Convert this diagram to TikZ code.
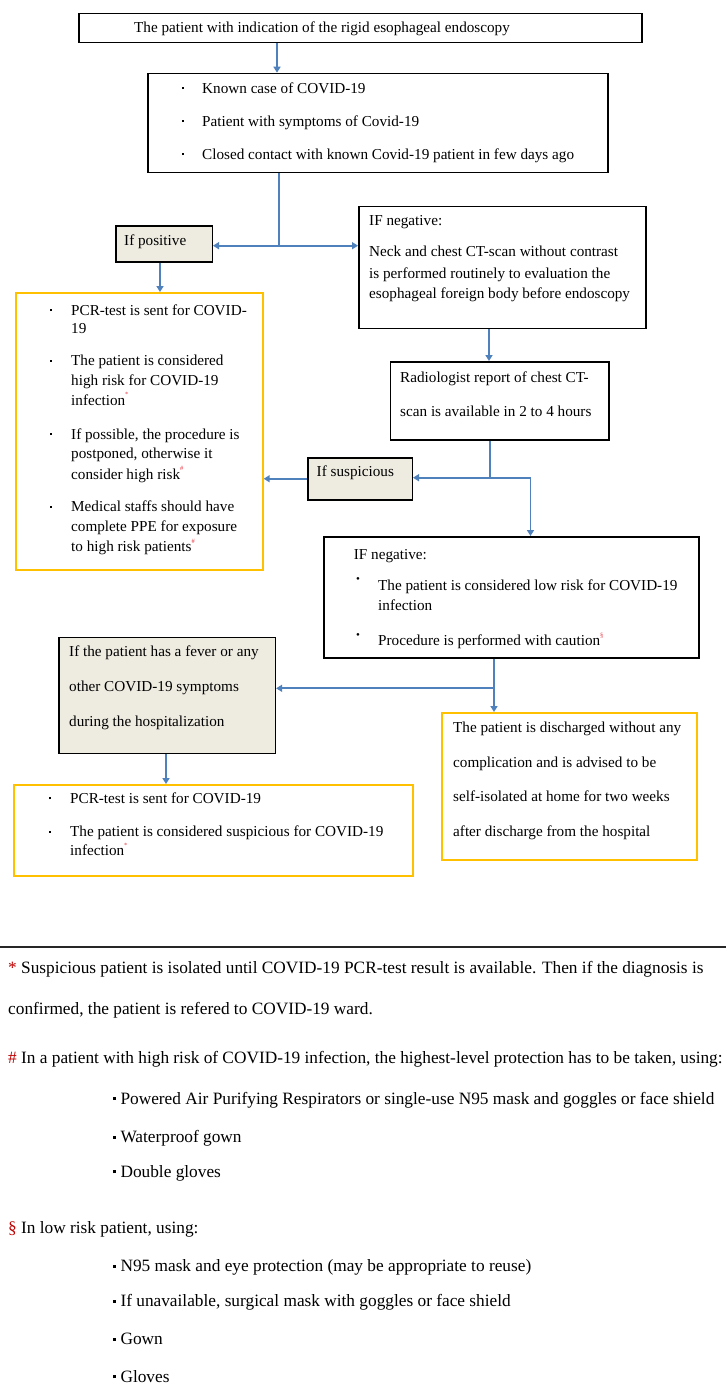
\documentclass[tikz,border=0pt]{standalone}
\usepackage{fontspec}
\setmainfont{Liberation Serif}
\usetikzlibrary{arrows.meta}
\definecolor{arrblue}{HTML}{4F81BD}
\definecolor{ybord}{HTML}{FFC000}
\definecolor{beige}{HTML}{EEECE1}
\definecolor{mred}{HTML}{E8323C}
\definecolor{fred}{HTML}{C00000}
\newcommand\fc{\fontsize{15.2}{18}\selectfont}
\newcommand\fn{\fontsize{17.3}{20}\selectfont}
\newcommand\bul{\rule[0.26em]{2.2pt}{2.2pt}}
\newcommand\sqb{\rule[0.24em]{3pt}{3pt}}
\newcommand\rbul{\raisebox{0.5em}{\fontsize{11}{11}\selectfont\textbullet}}
\newcommand\mk[1]{\raisebox{0.55em}{\color{mred}\fontsize{6.5}{6.5}\selectfont #1}}
\tikzset{
  box/.style={draw=black, line width=1.5pt, inner sep=0pt, anchor=north west},
  ybox/.style={draw=ybord, line width=1.7pt, inner sep=0pt, anchor=north west},
  gbox/.style={box, fill=beige},
  ln/.style={draw=arrblue, line width=1.8pt},
  arr/.style={ln, -{Triangle[width=7pt,length=6pt]}},
  txt/.style={anchor=west, inner sep=0pt, text height=10pt, text depth=0pt, font=\fc},
  ftxt/.style={anchor=west, inner sep=0pt, text height=11.4pt, text depth=0pt, font=\fn},
}
\begin{document}
\begin{tikzpicture}[x=1pt,y=-1pt]
\useasboundingbox (0,0) rectangle (726,1387);
\fill[white] (0,0) rectangle (726,1387);

% boxes
\node[box, minimum width=563pt, minimum height=29pt] (b1) at (78,12.7) {};
\node[box, minimum width=460pt, minimum height=99pt] (b2) at (147,72.7) {};
\node[gbox, minimum width=96.5pt, minimum height=36pt] (pos) at (115,225) {};
\node[ybox, minimum width=247pt, minimum height=277pt] (yl) at (15,292) {};
\node[box, minimum width=287pt, minimum height=122pt] (neg1) at (358,205.7) {};
\node[box, minimum width=218.5pt, minimum height=78pt] (rad) at (389.5,361) {};
\node[gbox, minimum width=104.5pt, minimum height=42pt] (susp) at (307,457) {};
\node[box, minimum width=375pt, minimum height=121pt] (neg2) at (323,536) {};
\node[gbox, minimum width=216.6pt, minimum height=116pt] (fev) at (58,636.7) {};
\node[ybox, minimum width=255pt, minimum height=147.3pt] (dis) at (441,712) {};
\node[ybox, minimum width=399pt, minimum height=91pt] (yb) at (13,784) {};

% texts
\node[txt] (t1) at (134,27) {The patient with indication of the rigid esophageal endoscopy};
\node[txt] (t2a) at (182,88) {\makebox[20pt][l]{\bul}Known case of COVID-19};
\node[txt] (t2b) at (182,121) {\makebox[20pt][l]{\bul}Patient with symptoms of Covid-19};
\node[txt] (t2c) at (182,154) {\makebox[20pt][l]{\bul}Closed contact with known Covid-19 patient in few days ago};
\node[txt] (tpos) at (124,240) {If positive};

\node[txt] (yl1) at (50,310) {\makebox[21pt][l]{\bul}PCR-test is sent for COVID-};
\node[txt] (yl2) at (71,328) {19};
\node[txt] (yl3) at (50,360.7) {\makebox[21pt][l]{\bul}The patient is considered};
\node[txt] (yl4) at (71,380) {high risk for COVID-19};
\node[txt] (yl5) at (71,400) {infection\mk{*}};
\node[txt] (yl6) at (50,434) {\makebox[21pt][l]{\bul}If possible, the procedure is};
\node[txt] (yl7) at (71,453) {postponed, otherwise it};
\node[txt] (yl8) at (71,474) {consider high risk\mk{\#}};
\node[txt] (yl9) at (50,506.7) {\makebox[21pt][l]{\bul}Medical staffs should have};
\node[txt] (yl10) at (71,526.7) {complete PPE for exposure};
\node[txt] (yl11) at (71,546.7) {to high risk patients\mk{\#}};

\node[txt] (n1a) at (369,220) {IF negative:};
\node[txt] (n1b) at (369,251.7) {Neck and chest CT-scan without contrast};
\node[txt] (n1c) at (369,273) {is performed routinely to evaluation the};
\node[txt] (n1d) at (369,293) {esophageal foreign body before endoscopy};

\node[txt] (r1) at (400,377.7) {Radiologist report of chest CT-};
\node[txt] (r2) at (400,411.7) {scan is available in 2 to 4 hours};

\node[txt] (tsusp) at (316.5,471.7) {If suspicious};

\node[txt] (n2a) at (353.7,554) {IF negative:};
\node[txt] (n2b) at (356,585) {\makebox[22pt][l]{\rbul}The patient is considered low risk for COVID-19};
\node[txt] (n2c) at (378,605) {infection};
\node[txt] (n2d) at (356,640.7) {\makebox[22pt][l]{\rbul}Procedure is performed with caution\mk{\S}};

\node[txt] (f1) at (69,651.7) {If the patient has a fever or any};
\node[txt] (f2) at (69,686.7) {other COVID-19 symptoms};
\node[txt] (f3) at (69,721.7) {during the hospitalization};

\node[txt] (d1) at (453,727.3) {The patient is discharged without any};
\node[txt] (d2) at (453,762.7) {complication and is advised to be};
\node[txt] (d3) at (453,796.7) {self-isolated at home for two weeks};
\node[txt] (d4) at (453,831.7) {after discharge from the hospital};

\node[txt] (yb1) at (49,798.3) {\makebox[21pt][l]{\bul}PCR-test is sent for COVID-19};
\node[txt] (yb2) at (49,831.7) {\makebox[21pt][l]{\bul}The patient is considered suspicious for COVID-19};
\node[txt] (yb3) at (70,850.7) {infection\mk{*}};

% connectors
\coordinate (c1) at (277,0);
\draw[arr] (c1 |- b1.south) -- (c1 |- b2.north);
\coordinate (j2) at (279,245.7);
\draw[ln] (j2 |- b2.south) -- (j2);
\draw[arr] (j2) -- (j2 -| pos.east);
\draw[arr] (j2) -- (j2 -| neg1.west);
\coordinate (c3) at (160,0);
\draw[arr] (c3 |- pos.south) -- (c3 |- yl.north);
\coordinate (c4) at (489,0);
\draw[arr] (c4 |- neg1.south) -- (c4 |- rad.north);
\coordinate (j5) at (489.6,477.7);
\coordinate (k5) at (530.5,477.7);
\draw[ln] (j5 |- rad.south) -- (j5);
\draw[arr] (j5) -- (j5 -| susp.east);
\draw[arr] (j5) -- (k5) -- (k5 |- neg2.north);
\draw[arr] (susp.west) -- (susp.west -| yl.east);
\coordinate (j6) at (494,688.3);
\draw[ln] (j6 |- neg2.south) -- (j6);
\draw[arr] (j6) -- (j6 -| fev.east);
\draw[arr] (j6) -- (j6 |- dis.north);
\coordinate (c7) at (166,0);
\draw[arr] (c7 |- fev.south) -- (c7 |- yb.north);

% footnotes
\draw[line width=1.8pt, black!85] (0,947.3) -- (726,947.3);
\node[ftxt] (fn1) at (8,967.3) {{\color{fred}*} Suspicious patient is isolated until COVID-19 PCR-test result is available. Then if the diagnosis is};
\node[ftxt] (fn2) at (8,1008.7) {confirmed, the patient is refered to COVID-19 ward.};
\node[ftxt] (fn3) at (8,1057.3) {{\color{fred}\#} In a patient with high risk of COVID-19 infection, the highest-level protection has to be taken, using:};
\node[ftxt] (fn4) at (113,1098.3) {\sqb\ Powered Air Purifying Respirators or single-use N95 mask and goggles or face shield};
\node[ftxt] (fn5) at (113,1137) {\sqb\ Waterproof gown};
\node[ftxt] (fn6) at (113,1171.7) {\sqb\ Double gloves};
\node[ftxt] (fn7) at (8,1227.3) {{\color{fred}\S} In low risk patient, using:};
\node[ftxt] (fn8) at (113,1266) {\sqb\ N95 mask and eye protection (may be appropriate to reuse)};
\node[ftxt] (fn9) at (113,1301) {\sqb\ If unavailable, surgical mask with goggles or face shield};
\node[ftxt] (fn10) at (113,1339) {\sqb\ Gown};
\node[ftxt] (fn11) at (113,1376.7) {\sqb\ Gloves};
\end{tikzpicture}
\end{document}
